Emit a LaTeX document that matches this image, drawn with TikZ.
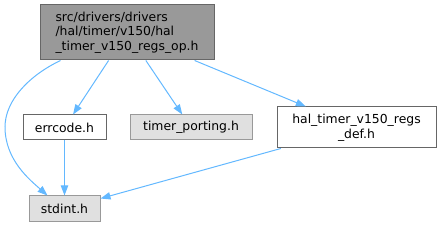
\documentclass[tikz,border=0pt]{standalone}
\usepackage{fontspec}
\setmainfont{DejaVu Sans}
\usetikzlibrary{arrows.meta}
\definecolor{edgeblue}{HTML}{63B8FF}
\definecolor{rootfill}{HTML}{999999}
\definecolor{rootdraw}{HTML}{666666}
\definecolor{grayfill}{HTML}{E0E0E0}
\definecolor{graydraw}{HTML}{999999}
\begin{document}
\begin{tikzpicture}[x=0.75pt,y=-0.75pt,
  box/.style={draw=rootdraw,line width=0.75pt,fill=white,inner sep=0pt,font=\fontsize{9.3pt}{10.9pt}\selectfont},
  rootbox/.style={box,fill=rootfill,draw=rootdraw,align=left},
  graybox/.style={box,fill=grayfill,draw=graydraw},
  dep/.style={draw=edgeblue,line width=0.75pt,-{Triangle[length=7.5pt,width=5.5pt]}}]
\useasboundingbox (0,0) rectangle (441,227);
\node[rootbox,minimum width=174*0.75pt,minimum height=55*0.75pt] (root) at (127,32.5)
  {src/drivers/drivers\\/hal/timer/v150/hal\\\_timer\_v150\_regs\_op.h};
\node[box,minimum width=83*0.75pt,minimum height=25*0.75pt] (err) at (64.5,127.5) {errcode.h};
\node[graybox,minimum width=122*0.75pt,minimum height=25*0.75pt] (tp) at (191,127.5) {timer\_porting.h};
\node[box,align=center,minimum width=159*0.75pt,minimum height=41*0.75pt] (def) at (356.5,127.5) {hal\_timer\_v150\_regs\\\_def.h};
\node[graybox,minimum width=71*0.75pt,minimum height=25*0.75pt] (std) at (64.5,208.5) {stdint.h};
\draw[dep] (root) -- (err);
\draw[dep] (root) -- (tp);
\draw[dep] (root) -- (def);
\draw[dep] (err) -- (std);
\draw[dep] (def) -- (std);
\draw[dep] ([xshift=21*0.75pt]root.south west) .. controls (30,75) and (5,100) .. (5,127) .. controls (5,160) and (30,180) .. ([xshift=19*0.75pt]std.north west);
\end{tikzpicture}
\end{document}
